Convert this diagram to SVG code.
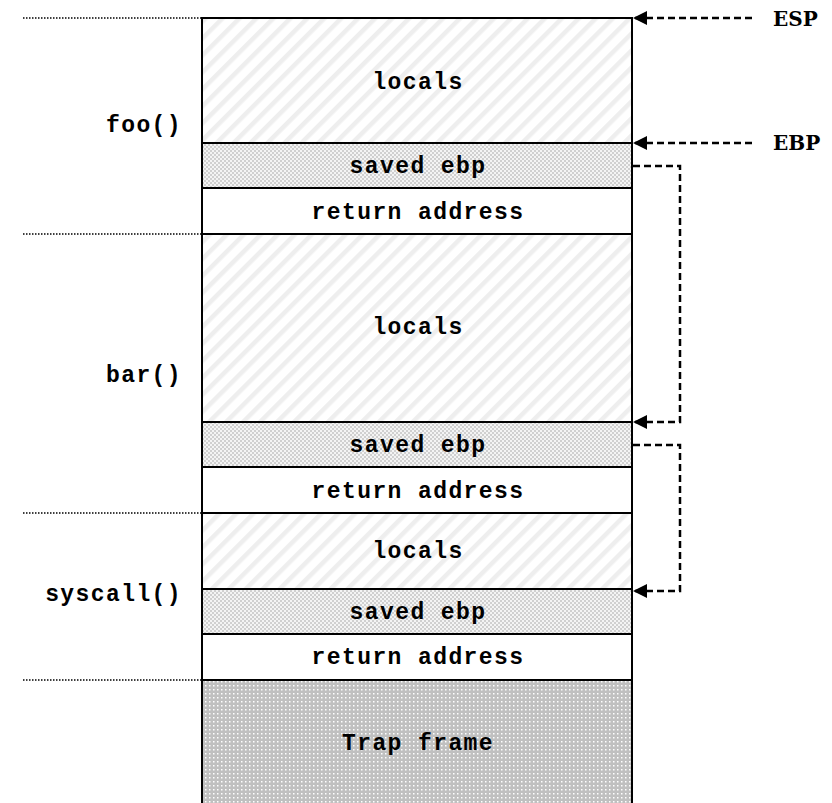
<svg xmlns="http://www.w3.org/2000/svg" width="832" height="803" viewBox="0 0 832 803">
<defs>
<pattern id="hatch" patternUnits="userSpaceOnUse" width="12" height="12" patternTransform="rotate(45)">
<rect width="12" height="12" fill="#ffffff"/>
<rect x="0" y="0" width="4.5" height="12" fill="#eeeeee"/>
</pattern>
<pattern id="checker" patternUnits="userSpaceOnUse" width="4" height="4">
<rect width="4" height="4" fill="#f4f4f4"/>
<rect x="0" y="0" width="2" height="2" fill="#d0d0d0"/>
<rect x="2" y="2" width="2" height="2" fill="#d0d0d0"/>
</pattern>
<pattern id="dots" patternUnits="userSpaceOnUse" width="4" height="4">
<rect width="4" height="4" fill="#c0c0c0"/>
<rect x="1" y="1" width="1.5" height="1.5" fill="#ffffff"/>
</pattern>
<marker id="arr" viewBox="0 0 14 14" refX="13" refY="7" markerWidth="14" markerHeight="14" markerUnits="userSpaceOnUse" orient="auto">
<path d="M0,0 L14,7 L0,14 Z" fill="#000"/>
</marker>
</defs>
<style>
.box{stroke:#000;stroke-width:2}
.t{font-family:"Liberation Mono","Courier New",monospace;font-weight:bold;font-size:23px;letter-spacing:1.4px;fill:#000}
.reg{font-family:"DejaVu Serif",serif;font-weight:bold;font-size:20px;fill:#000}
.dot{stroke:#000;stroke-width:1.5;stroke-dasharray:1.5 1.5;fill:none}
.con{stroke:#000;stroke-width:2.5;stroke-dasharray:7 4;fill:none}
</style>
<g id="dividers">
<line class="dot" x1="23" y1="18" x2="202" y2="18"/>
<line class="dot" x1="23" y1="234" x2="202" y2="234"/>
<line class="dot" x1="23" y1="513" x2="202" y2="513"/>
<line class="dot" x1="23" y1="680" x2="202" y2="680"/>
</g>
<g id="frame-labels">
<text class="t" x="182" y="132" text-anchor="end">foo()</text>
<text class="t" x="182" y="382" text-anchor="end">bar()</text>
<text class="t" x="182" y="601" text-anchor="end">syscall()</text>
</g>
<g id="foo-locals"><rect class="box" x="202" y="18" width="430" height="125" fill="url(#hatch)"/><text class="t" x="418" y="89" text-anchor="middle">locals</text></g>
<g id="foo-saved-ebp"><rect class="box" x="202" y="143" width="430" height="45" fill="url(#checker)"/><text class="t" x="418" y="173" text-anchor="middle">saved ebp</text></g>
<g id="foo-return"><rect class="box" x="202" y="188" width="430" height="46" fill="#fff"/><text class="t" x="418" y="219" text-anchor="middle">return address</text></g>
<g id="bar-locals"><rect class="box" x="202" y="234" width="430" height="188" fill="url(#hatch)"/><text class="t" x="418" y="334" text-anchor="middle">locals</text></g>
<g id="bar-saved-ebp"><rect class="box" x="202" y="422" width="430" height="45" fill="url(#checker)"/><text class="t" x="418" y="452" text-anchor="middle">saved ebp</text></g>
<g id="bar-return"><rect class="box" x="202" y="467" width="430" height="46" fill="#fff"/><text class="t" x="418" y="498" text-anchor="middle">return address</text></g>
<g id="syscall-locals"><rect class="box" x="202" y="513" width="430" height="76" fill="url(#hatch)"/><text class="t" x="418" y="558" text-anchor="middle">locals</text></g>
<g id="syscall-saved-ebp"><rect class="box" x="202" y="589" width="430" height="45" fill="url(#checker)"/><text class="t" x="418" y="619" text-anchor="middle">saved ebp</text></g>
<g id="syscall-return"><rect class="box" x="202" y="634" width="430" height="46" fill="#fff"/><text class="t" x="418" y="664" text-anchor="middle">return address</text></g>
<g id="trap-frame"><rect class="box" x="202" y="680" width="430" height="130" fill="url(#dots)"/><text class="t" x="418" y="750" text-anchor="middle">Trap frame</text></g>
<g id="ESP"><text class="reg" x="773" y="26">ESP</text></g>
<g id="EBP"><text class="reg" x="773" y="150">EBP</text></g>
<g id="connectors">
<line class="con" x1="752" y1="18" x2="634" y2="18" marker-end="url(#arr)"/>
<line class="con" x1="752" y1="143" x2="634" y2="143" marker-end="url(#arr)"/>
<polyline class="con" points="633,166 680,166 680,422 634,422" marker-end="url(#arr)"/>
<polyline class="con" points="633,445 680,445 680,591 634,591" marker-end="url(#arr)"/>
</g>
</svg>
